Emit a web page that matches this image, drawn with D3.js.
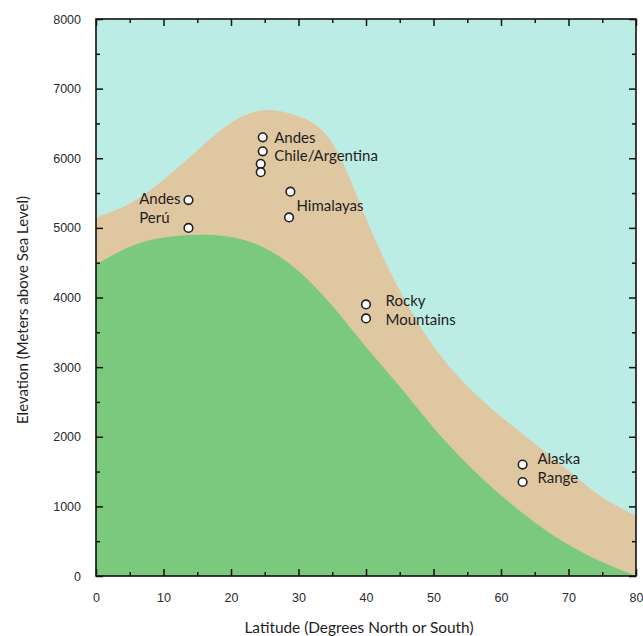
<!DOCTYPE html>
<html>
<head>
<meta charset="utf-8">
<script src="https://cdn.jsdelivr.net/npm/d3@7"></script>
<style>
  body { margin: 0; background: #fff; }
  svg { display: block; }
</style>
</head>
<body>
<div id="chart"></div>
<script>
// latitude grid of the two boundary curves
const latitudes = [0, 5, 10, 15, 20, 25, 30, 35, 40, 45, 50, 55, 60, 65, 70, 75, 80]
// top of the tan band
const upperBand = [5150, 5350, 5690, 6110, 6510, 6690, 6600, 6220, 5140, 4100, 3300, 2730, 2290, 1900, 1510, 1130, 870]
// top of the green band
const lowerBand = [4470, 4730, 4860, 4900, 4870, 4710, 4380, 3880, 3290, 2720, 2130, 1610, 1160, 770, 450, 200, 0]

// observed sites
const siteLat = [24.7, 24.7, 24.4, 24.4, 13.7, 13.7, 28.8, 28.6, 40, 40, 63.2, 63.2]
const siteElev = [6300, 6100, 5920, 5800, 5400, 5000, 5520, 5150, 3900, 3700, 1600, 1350]

// site labels (text, latitude, elevation of the text line)
const labelText = ["Andes", "Chile/Argentina", "Andes", "Perú", "Himalayas", "Rocky", "Mountains", "Alaska", "Range"]
const labelLat = [26.4, 26.4, 6.4, 6.4, 29.7, 42.9, 42.9, 65.4, 65.4]
const labelElev = [6300, 6030, 5420, 5140, 5320, 3960, 3680, 1690, 1410]

const xTicks = [0, 10, 20, 30, 40, 50, 60, 70, 80]
const yTicks = [0, 1000, 2000, 3000, 4000, 5000, 6000, 7000, 8000]

const width = 643
const height = 636
const margin = {top: 19, right: 7, bottom: 60, left: 96}

const svg = d3.select("#chart").append("svg")
    .attr("width", width)
    .attr("height", height)

const x = d3.scaleLinear().domain([0, 80]).range([margin.left, width - margin.right])
const y = d3.scaleLinear().domain([0, 8000]).range([height - margin.bottom, margin.top])

const colors = {sky: "#bcede4", tan: "#dfc7a1", green: "#7bc97d"}
const labelFont = "Lato, 'Open Sans', sans-serif"

// background
svg.append("rect")
    .attr("x", x(0)).attr("y", y(8000))
    .attr("width", x(80) - x(0)).attr("height", y(0) - y(8000))
    .attr("fill", colors.sky)

const band = d3.area()
    .x((d, i) => x(latitudes[i]))
    .y0(y(0))
    .y1(d => y(d))
    .curve(d3.curveNatural)

svg.append("path").datum(upperBand).attr("d", band).attr("fill", colors.tan)
svg.append("path").datum(lowerBand).attr("d", band).attr("fill", colors.green)

// sites
svg.append("g")
    .selectAll("circle")
    .data(siteLat)
    .join("circle")
    .attr("cx", d => x(d))
    .attr("cy", (d, i) => y(siteElev[i]))
    .attr("r", 4.3)
    .attr("fill", "#fff")
    .attr("stroke", "#222")
    .attr("stroke-width", 1.6)

svg.append("g")
    .attr("font-family", labelFont)
    .attr("font-size", 15)
    .attr("fill", "#1e1e1e")
    .selectAll("text")
    .data(labelText)
    .join("text")
    .attr("x", (d, i) => x(labelLat[i]))
    .attr("y", (d, i) => y(labelElev[i]))
    .attr("dy", "0.35em")
    .text(d => d)

// axes, ticks pointing inward
const tickStyle = g => {
    g.select(".domain").remove()
    g.selectAll(".tick line").attr("stroke", "#111").attr("stroke-width", 1.5)
    g.selectAll(".tick text")
        .style("font-family", "'Liberation Sans', Arial, sans-serif")
        .style("font-size", "12.5px")
        .attr("fill", "#2a2a2a")
}
const fmt = d3.format("d")
const minorX = d3.range(5, 80, 10)
const minorY = d3.range(500, 8000, 1000)

svg.append("g").attr("transform", `translate(0,${y(0)})`)
    .call(d3.axisBottom(x).tickValues(xTicks).tickSize(-7).tickPadding(17.5).tickFormat(fmt)).call(tickStyle)
svg.append("g").attr("transform", `translate(0,${y(0)})`)
    .call(d3.axisBottom(x).tickValues(minorX).tickSize(-4).tickFormat("")).call(tickStyle)
svg.append("g").attr("transform", `translate(0,${y(8000)})`)
    .call(d3.axisTop(x).tickValues(xTicks).tickSize(-7).tickFormat("")).call(tickStyle)
svg.append("g").attr("transform", `translate(0,${y(8000)})`)
    .call(d3.axisTop(x).tickValues(minorX).tickSize(-4).tickFormat("")).call(tickStyle)

svg.append("g").attr("transform", `translate(${x(0)},0)`)
    .call(d3.axisLeft(y).tickValues(yTicks).tickSize(-7).tickPadding(15).tickFormat(fmt)).call(tickStyle)
svg.append("g").attr("transform", `translate(${x(0)},0)`)
    .call(d3.axisLeft(y).tickValues(minorY).tickSize(-4).tickFormat("")).call(tickStyle)
svg.append("g").attr("transform", `translate(${x(80)},0)`)
    .call(d3.axisRight(y).tickValues(yTicks).tickSize(-7).tickFormat("")).call(tickStyle)
svg.append("g").attr("transform", `translate(${x(80)},0)`)
    .call(d3.axisRight(y).tickValues(minorY).tickSize(-4).tickFormat("")).call(tickStyle)

// frame
svg.append("rect")
    .attr("x", x(0)).attr("y", y(8000))
    .attr("width", x(80) - x(0)).attr("height", y(0) - y(8000))
    .attr("fill", "none")
    .attr("stroke", "#111")
    .attr("stroke-width", 1.6)

// axis titles
svg.append("text")
    .attr("x", 359)
    .attr("y", 633)
    .attr("text-anchor", "middle")
    .attr("font-family", labelFont)
    .attr("font-size", 15.4)
    .attr("fill", "#1e1e1e")
    .text("Latitude (Degrees North or South)")

svg.append("text")
    .attr("transform", "translate(28,310) rotate(-90)")
    .attr("text-anchor", "middle")
    .attr("font-family", labelFont)
    .attr("font-size", 15)
    .attr("fill", "#1e1e1e")
    .text("Elevation (Meters above Sea Level)")
</script>
</body>
</html>
